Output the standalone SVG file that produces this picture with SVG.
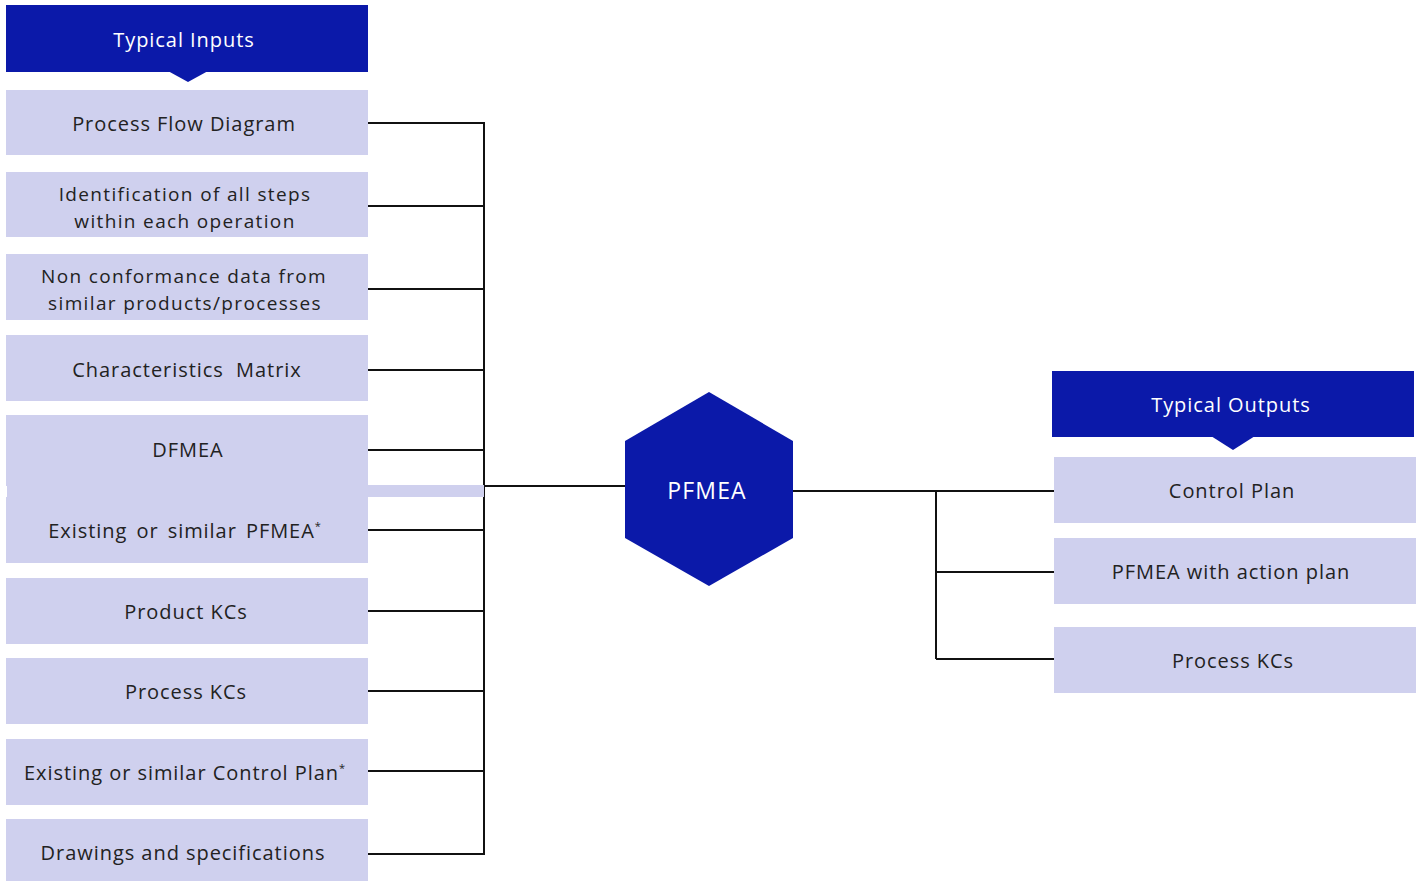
<svg xmlns="http://www.w3.org/2000/svg" width="1423" height="881" viewBox="0 0 1423 881">
<style>
.hdr{fill:#0B19A9}
.box{fill:#CFD0EE}
.t{font-family:"Open Sans","Liberation Sans",sans-serif;font-size:20px;fill:#222;text-anchor:middle;letter-spacing:0.95px}
.t2{font-size:19px;letter-spacing:1.35px}
.w{font-family:"Open Sans","Liberation Sans",sans-serif;font-size:20px;fill:#fff;text-anchor:middle;letter-spacing:0.95px}
.c{fill:none;stroke:#111;stroke-width:2}
.sup{font-size:11px}
</style>
<rect width="1423" height="881" fill="#fff"/>
<g id="inputs-header">
<rect class="hdr" x="6" y="5" width="362" height="67"/>
<polygon class="hdr" points="168,71 208,71 188,82"/>
<text class="w" x="184" y="47">Typical Inputs</text>
</g>
<g id="connectors">
<path class="c" d="M368 123H484M368 206H484M368 289H484M368 370H484M368 450H484M368 530H484M368 611H484M368 691H484M368 771H484M368 854H484M484 122V855M484 486H625"/>
<path class="c" d="M793 491H1054M936 491V659M936 572H1054M936 659H1054"/>
</g>
<g id="n1"><rect class="box" x="6" y="90" width="362" height="65"/><text class="t" x="184" y="131">Process Flow Diagram</text></g>
<g id="n2"><rect class="box" x="6" y="172" width="362" height="65"/><text class="t t2" x="185" y="201">Identification of all steps</text><text class="t t2" x="185" y="228">within each operation</text></g>
<g id="n3"><rect class="box" x="6" y="254" width="362" height="66"/><text class="t t2" x="184" y="283">Non conformance data from</text><text class="t t2" x="185" y="310">similar products/processes</text></g>
<g id="n4"><rect class="box" x="6" y="335" width="362" height="66"/><text class="t" x="187" y="377" xml:space="preserve">Characteristics  Matrix</text></g>
<g id="n5"><rect class="box" x="6" y="415" width="362" height="71"/><rect class="box" x="7" y="485" width="477" height="12"/><text class="t" x="188" y="457">DFMEA</text></g>
<g id="n6"><rect class="box" x="6" y="497" width="362" height="66"/><text class="t" x="185" y="538" style="word-spacing:3px">Existing or similar PFMEA<tspan class="sup" dy="-8">*</tspan></text></g>
<g id="n7"><rect class="box" x="6" y="578" width="362" height="66"/><text class="t" x="186" y="619">Product KCs</text></g>
<g id="n8"><rect class="box" x="6" y="658" width="362" height="66"/><text class="t" x="186" y="699">Process KCs</text></g>
<g id="n9"><rect class="box" x="6" y="739" width="362" height="66"/><text class="t" x="185" y="780">Existing or similar Control Plan<tspan class="sup" dy="-8">*</tspan></text></g>
<g id="n10"><rect class="box" x="6" y="819" width="362" height="62"/><text class="t" x="183" y="860">Drawings and specifications</text></g>
<g id="pfmea">
<polygon class="hdr" points="709,392 793,441 793,538 709,586 625,538 625,441"/>
<text class="w" x="707" y="499" style="font-size:23px;letter-spacing:1.2px">PFMEA</text>
</g>
<g id="outputs-header">
<rect class="hdr" x="1052" y="371" width="362" height="66"/>
<polygon class="hdr" points="1211,436 1255,436 1233,450"/>
<text class="w" x="1231" y="412">Typical Outputs</text>
</g>
<g id="o1"><rect class="box" x="1054" y="457" width="362" height="66"/><text class="t" x="1232" y="498">Control Plan</text></g>
<g id="o2"><rect class="box" x="1054" y="538" width="362" height="66"/><text class="t" x="1231" y="579">PFMEA with action plan</text></g>
<g id="o3"><rect class="box" x="1054" y="627" width="362" height="66"/><text class="t" x="1233" y="668">Process KCs</text></g>
</svg>
